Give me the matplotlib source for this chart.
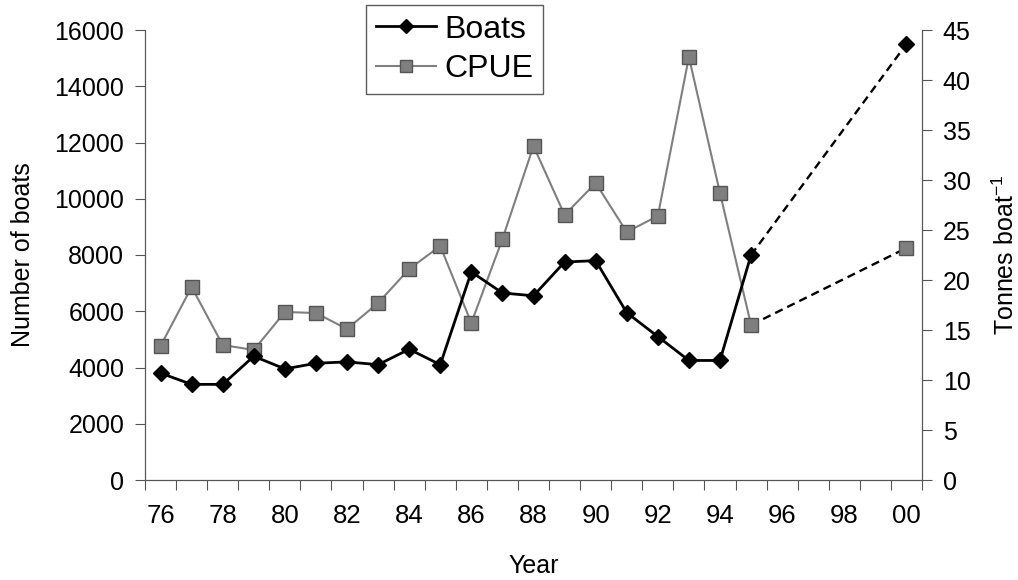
import matplotlib.pyplot as plt
import numpy as np

plt.rcParams['font.family'] = ['Liberation Sans', 'DejaVu Sans']
plt.rcParams['mathtext.fontset'] = 'custom'
plt.rcParams['mathtext.rm'] = 'Liberation Sans'
plt.rcParams['mathtext.it'] = 'Liberation Sans:italic'

# data
years = np.arange(1976, 1996)
boats = [3800, 3400, 3400, 4400, 3950, 4150, 4200, 4100, 4650, 4100,
         7400, 6650, 6550, 7750, 7800, 5950, 5100, 4250, 4250, 8000]
cpue = [13.4, 19.3, 13.5, 13.0, 16.8, 16.7, 15.1, 17.7, 21.1, 23.4,
        15.7, 24.1, 33.4, 26.5, 29.7, 24.8, 26.4, 42.3, 28.7, 15.5]
year_2000 = 2000
boats_2000 = 15500
cpue_2000 = 23.2
tick_years = np.arange(1976, 2001, 2)
tick_labels = ['%02d' % (y % 100) for y in tick_years]

fs = 18

fig = plt.figure(figsize=(10.18, 5.8), dpi=100)
ax = fig.add_axes([145/1018, 100/580, 777/1018, 450/580])
ax2 = ax.twinx()

gray = '#7f7f7f'

# projections to 2000
ax.plot([years[-1], year_2000], [boats[-1], boats_2000], '--', color='black', lw=1.7, dashes=(3.5, 2.2))
ax.plot([year_2000], [boats_2000], 'D', color='black', ms=8.5)
ax2.plot([years[-1], year_2000], [cpue[-1], cpue_2000], '--', color='black', lw=1.7, dashes=(3.5, 2.2))
ax2.plot([year_2000], [cpue_2000], 's', color=gray, mec='#555555', ms=9.5)

l1, = ax.plot(years, boats, '-D', color='black', lw=2, ms=8.5, label='Boats', zorder=5)
l2, = ax2.plot(years, cpue, '-s', color=gray, mfc=gray, mec='#555555', lw=1.5, ms=9.5, label='CPUE')
ax.set_zorder(ax2.get_zorder() + 1)
ax.patch.set_visible(False)

ax.set_xlim(1975.5, 2000.5)
ax.set_ylim(0, 16000)
ax2.set_ylim(0, 45)
ax.set_yticks(np.arange(0, 16001, 2000))
ax2.set_yticks(np.arange(0, 46, 5))
ax.set_xticks(tick_years)
ax.set_xticklabels(tick_labels)
ax.set_xticks(np.arange(1975.5, 2001, 1), minor=True)
ax.tick_params(axis='x', which='major', length=0, pad=17, labelsize=fs + 0.5)
ax.tick_params(axis='x', which='minor', length=7, width=0.8, color='#555555')
ax.tick_params(axis='y', length=7, width=0.8, color='#555555', labelsize=fs, pad=8)
ax2.tick_params(axis='y', length=7, width=0.8, color='#555555', labelsize=fs, pad=8)

for a in (ax, ax2):
    a.spines['top'].set_visible(False)
    for s in ('left', 'right', 'bottom'):
        a.spines[s].set_color('#555555')
        a.spines[s].set_linewidth(0.8)

ax.set_xlabel('Year', fontsize=fs, labelpad=19)
ax.set_ylabel('Number of boats', fontsize=fs, labelpad=14)
ax2.set_ylabel('Tonnes boat$^{-1}$', fontsize=fs, labelpad=16)

leg = fig.legend(handles=[l1, l2], loc='upper left', bbox_to_anchor=(366/1018, 1 - 5/580),
                 fontsize=23, frameon=True, fancybox=False, edgecolor='#333333',
                 handlelength=1.9, handletextpad=0.25, borderpad=0.3, labelspacing=0.3,
                 borderaxespad=0, markerscale=0.85)
leg.get_frame().set_linewidth(1)

fig.savefig('out.png', dpi=100)
